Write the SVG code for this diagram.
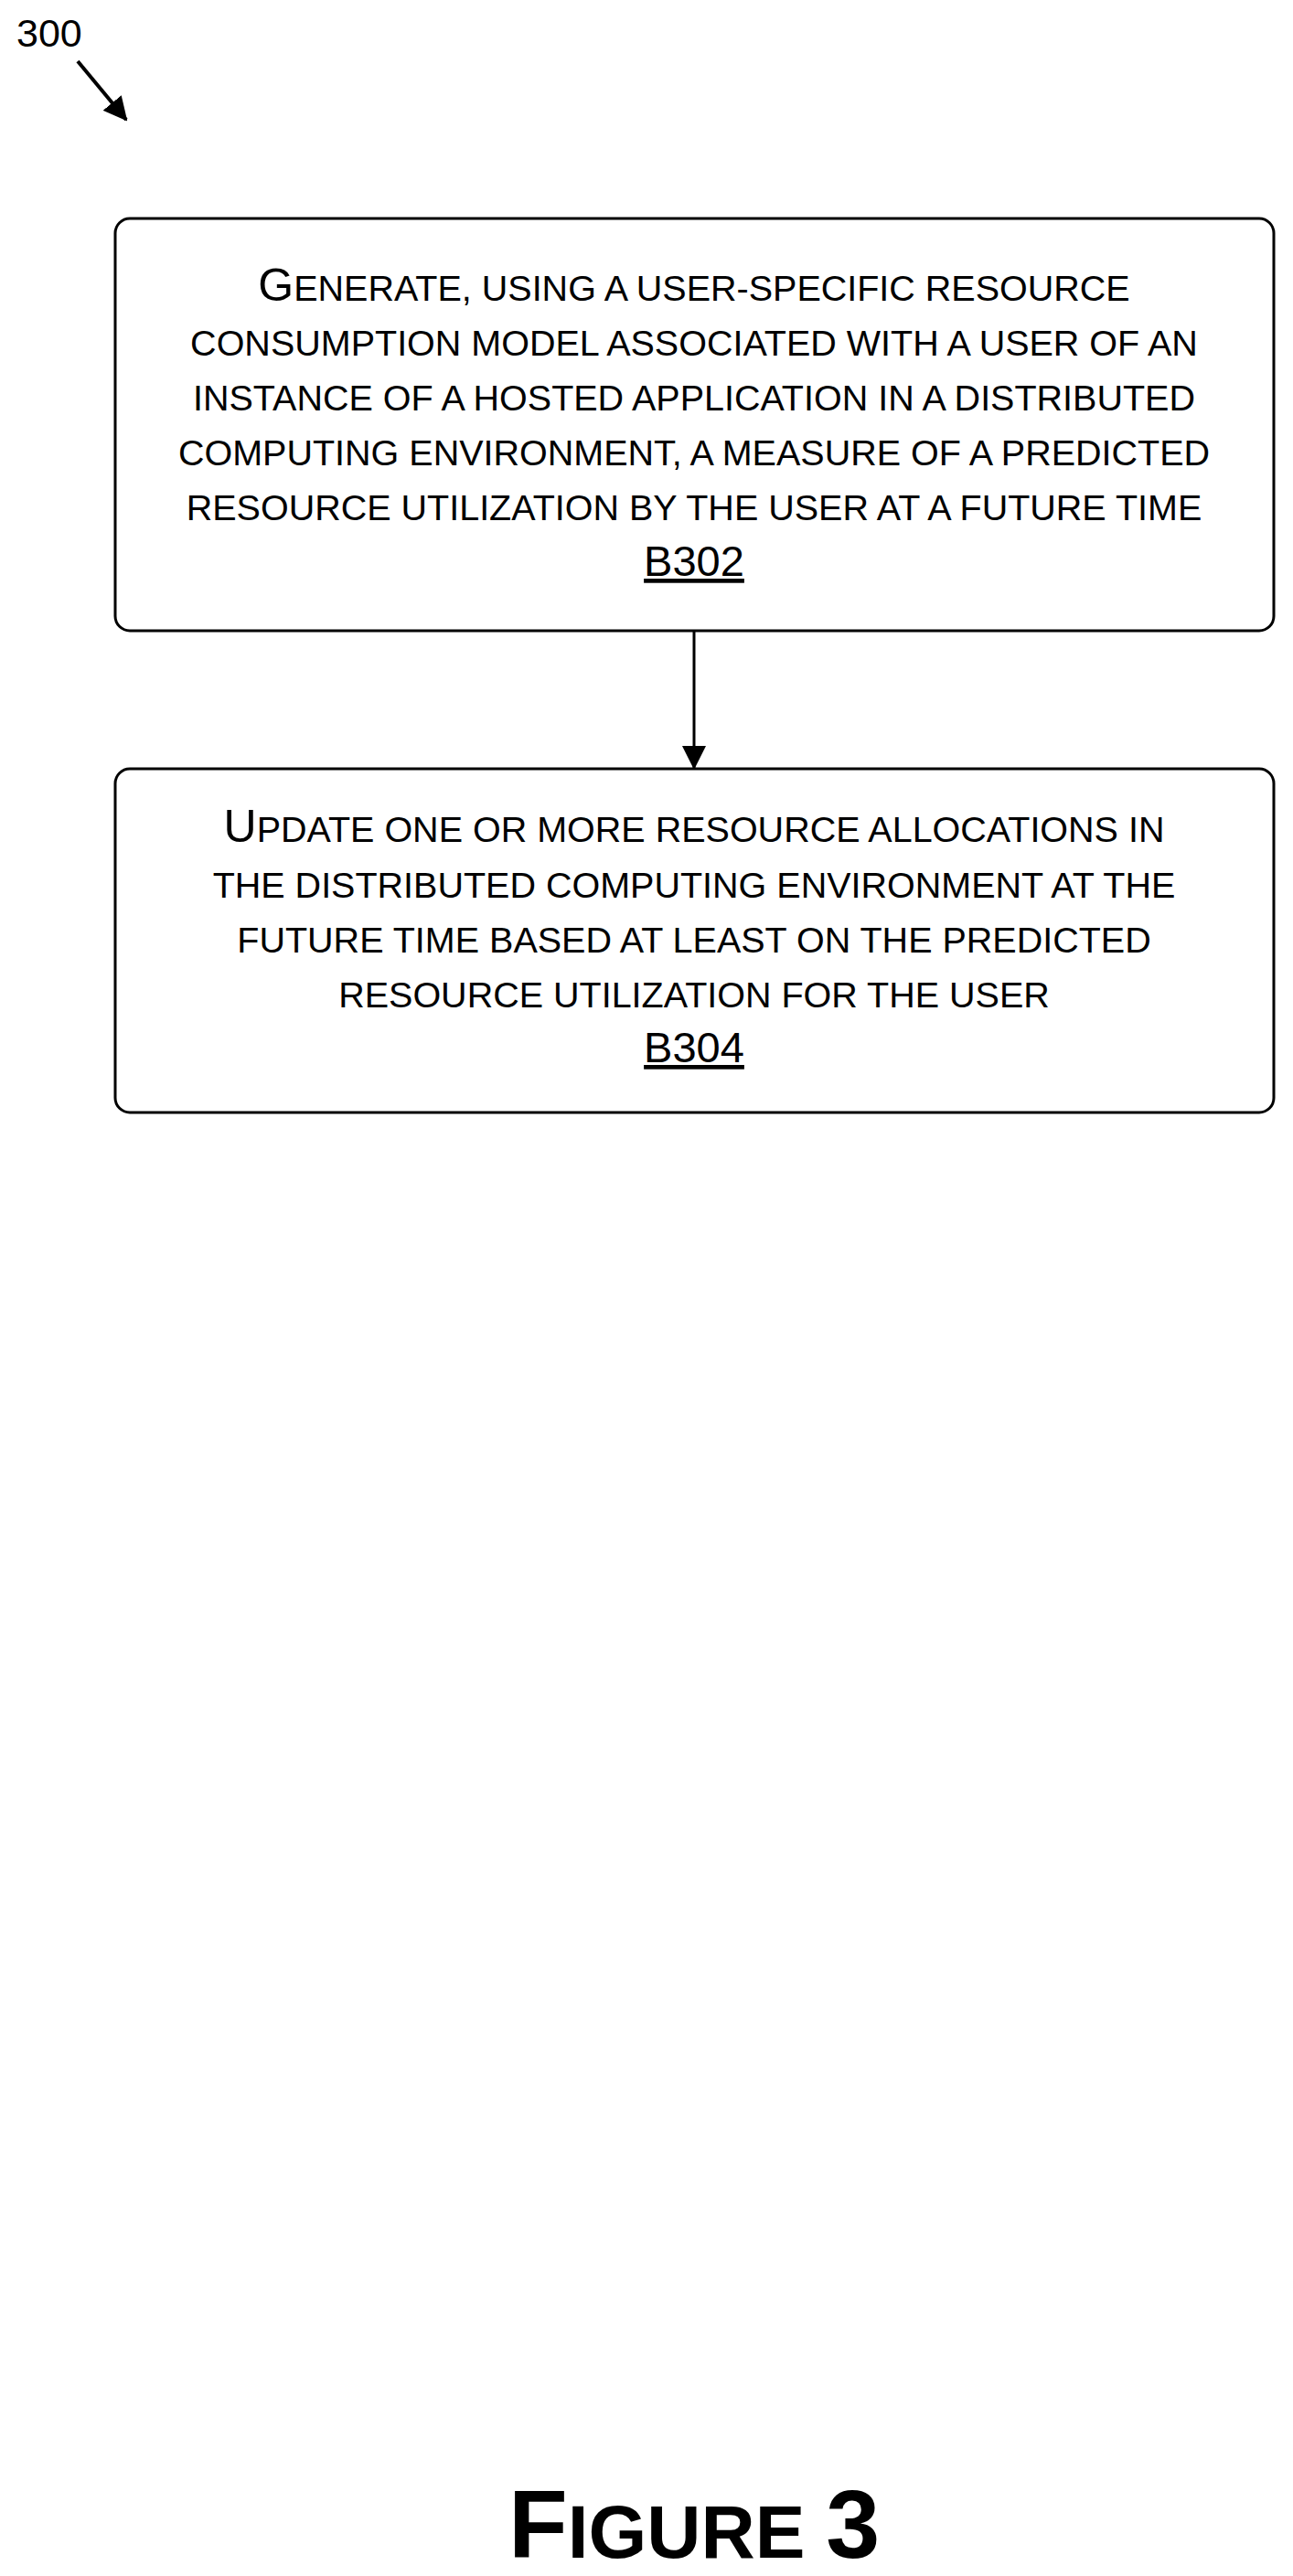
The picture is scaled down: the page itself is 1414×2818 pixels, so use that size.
<svg xmlns="http://www.w3.org/2000/svg" width="1414" height="2818" viewBox="0 0 1414 2818">
<style>
.box{fill:#fff;stroke:#000;stroke-width:3}
.t{font-family:"Liberation Sans",Arial,sans-serif;font-size:39.5px;text-anchor:middle;fill:#000}
.c{font-size:50px}
.ref{font-size:47px;text-decoration:underline}
</style>
<defs>
<marker id="ah2" markerWidth="26" markerHeight="26" refX="24" refY="13" orient="auto" markerUnits="userSpaceOnUse" viewBox="0 0 26 26"><path d="M0,0 L26,13 L0,26 z"/></marker></defs>
<g id="label300"><text x="18" y="51" style="font-family:'Liberation Sans',Arial,sans-serif;font-size:43px">300</text></g>
<g id="connectors">
<line x1="85" y1="67" x2="138" y2="131" stroke="#000" stroke-width="4" marker-end="url(#ah2)"/>
<line x1="759" y1="690" x2="759" y2="840" stroke="#000" stroke-width="3" marker-end="url(#ah2)"/>
</g>
<g id="B302">
<rect class="box" x="126" y="239" width="1267" height="451" rx="16"/>
<text class="t" x="759" y="329"><tspan class="c">G</tspan>ENERATE, USING A USER-SPECIFIC RESOURCE</text>
<text class="t" x="759" y="389">CONSUMPTION MODEL ASSOCIATED WITH A USER OF AN</text>
<text class="t" x="759" y="449">INSTANCE OF A HOSTED APPLICATION IN A DISTRIBUTED</text>
<text class="t" x="759" y="509">COMPUTING ENVIRONMENT, A MEASURE OF A PREDICTED</text>
<text class="t" x="759" y="569">RESOURCE UTILIZATION BY THE USER AT A FUTURE TIME</text>
<text class="t ref" x="759" y="630">B302</text>
</g>
<g id="B304">
<rect class="box" x="126" y="841" width="1267" height="376" rx="16"/>
<text class="t" x="759" y="921"><tspan class="c">U</tspan>PDATE ONE OR MORE RESOURCE ALLOCATIONS IN</text>
<text class="t" x="759" y="982">THE DISTRIBUTED COMPUTING ENVIRONMENT AT THE</text>
<text class="t" x="759" y="1042">FUTURE TIME BASED AT LEAST ON THE PREDICTED</text>
<text class="t" x="759" y="1102">RESOURCE UTILIZATION FOR THE USER</text>
<text class="t ref" x="759" y="1162">B304</text>
</g>
<g id="title"><text x="759" y="2798" style="font-family:'Liberation Sans',Arial,sans-serif;font-weight:bold;font-size:82px;text-anchor:middle"><tspan font-size="106">F</tspan>IGURE <tspan font-size="106">3</tspan></text></g>
</svg>
